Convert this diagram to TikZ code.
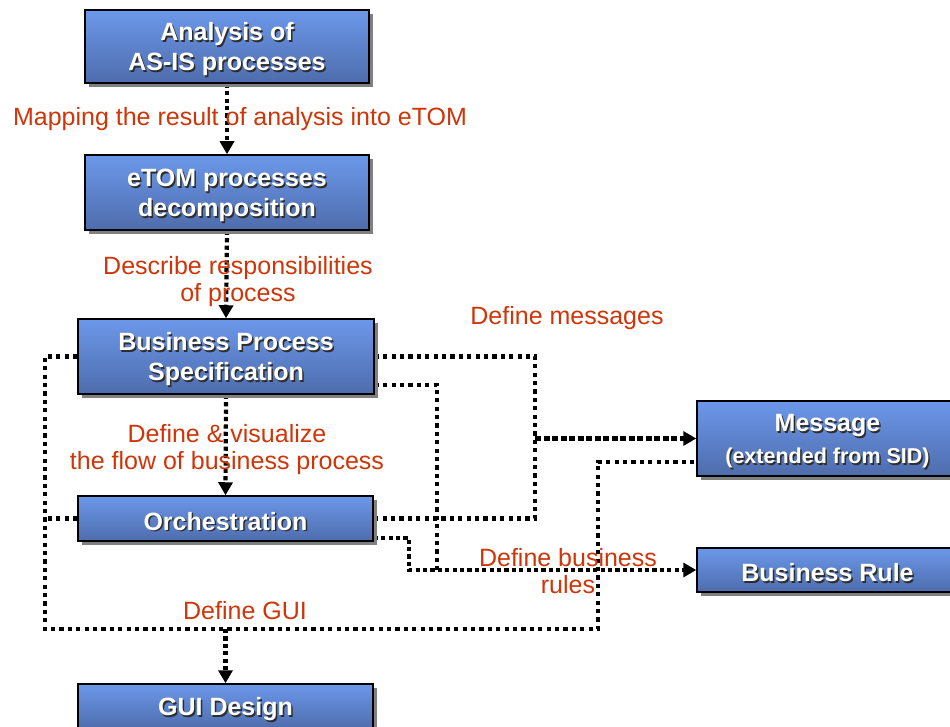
\documentclass[tikz,border=0pt]{standalone}
\usepackage{fontspec}
\setmainfont{Liberation Sans}
\usetikzlibrary{arrows.meta}

\definecolor{boxtop}{RGB}{108,152,234}
\definecolor{boxbot}{RGB}{78,108,172}
\definecolor{labelred}{RGB}{206,54,10}
\definecolor{boxshadow}{RGB}{128,128,128}
\definecolor{textshadow}{RGB}{45,45,45}

\pgfdeclarelayer{background}
\pgfsetlayers{background,main}

\tikzset{
  procbox/.style={draw=black, line width=1.5pt, top color=boxtop, bottom color=boxbot,
    rectangle, inner sep=0pt},
  boxtext/.style={font=\fontsize{25}{30}\selectfont\bfseries, text=white,
    align=center, inner sep=0pt},
  flow/.style={line width=4.2pt, dash pattern=on 4.2pt off 4.2pt, black},
  flowarrow/.style={flow, dash pattern=on 4.2pt off 3.2pt,
    -{Triangle[length=13pt,width=14pt]}},
  densearrow/.style={flowarrow, dash pattern=on 6pt off 2.5pt},
  steplabel/.style={font=\fontsize{25}{27}\selectfont, text=labelred,
    align=center, inner sep=0pt},
}

% process box: name, left, top, right, bottom, text
\newcommand\procnode[6]{%
  \fill[boxshadow] (#2+4,#3+4) rectangle (#4+4,#5+4);
  \node[procbox, minimum width={(#4-#2)*1pt}, minimum height={(#5-#3)*1pt}]
    (#1) at ({(#2+#4)/2},{(#3+#5)/2}) {};
  \node[boxtext, text=textshadow] at ([shift={(1.5pt,-4.5pt)}]#1.center) {#6};
  \node[boxtext] at ([yshift=-3pt]#1.center) {#6};
}

\begin{document}
\begin{tikzpicture}[x=1pt, y=-1pt]
  \clip (0,0) rectangle (950,727);

  % process boxes
  \procnode{ana}{85}{10}{369}{83}{Analysis of\\AS-IS processes}
  \procnode{etom}{85}{155}{369}{230}{eTOM processes\\decomposition}
  \procnode{bps}{78}{319}{374}{394}{Business Process\\Specification}
  \procnode{orch}{78}{496}{373}{541}{Orchestration}
  \procnode{gui}{78}{684}{373}{729}{GUI Design}
  \procnode{msg}{697}{401}{958}{476}{Message\\[2pt]{\fontsize{21.5}{26}\selectfont (extended from SID)}}
  \procnode{rule}{697}{548}{958}{592}{Business Rule}

  % routing points of the connectors
  \coordinate (guiL) at (45,629);
  \coordinate (guiR) at (598,629);
  \coordinate (msgX) at (535,438);
  \coordinate (ruleA) at (437,569);
  \coordinate (ruleB) at (409,569);

  \begin{pgfonlayer}{background}
    \fill[white] (0,0) rectangle (950,727);

    % main sequence
    \draw[flowarrow] (ana.south) -- (etom.north);
    \draw[flowarrow] (etom.south) -- (bps.north);
    \draw[flowarrow] (bps.south) -- (orch.north);

    % GUI definition
    \draw[flow] (bps.west) -| (guiL) -- (guiR) |- ([yshift=15pt]msg.south west);
    \draw[flow] (orch.west) -- (orch.west -| guiL);
    \draw[flowarrow] (gui.north |- guiL) -- (gui.north);

    % message definition
    \draw[flow] (bps.east) -| (msgX |- orch.east) -- (orch.east);
    \draw[densearrow] (msgX |- msg.west) -- (msg.west);

    % business rule definition
    \draw[flow] ([yshift=10pt]bps.south east) -| (ruleA |- rule.west);
    \draw[flowarrow] ([yshift=4pt]orch.south east) -| (ruleB |- rule.west) -- (rule.west);
  \end{pgfonlayer}

  % connector labels
  \node[steplabel] (lmap) at (240,119) {Mapping the result of analysis into eTOM};
  \node[steplabel] (lresp) at (238,282) {Describe responsibilities\\of process};
  \node[steplabel] (lmsg) at (567,318) {Define messages};
  \node[steplabel] (lflow) at (227,450) {Define \& visualize\\the flow of business process};
  \node[steplabel] (lrule) at (568,571.5) {Define business\\rules};
  \node[steplabel] (lgui) at (245,610.5) {Define GUI};
\end{tikzpicture}
\end{document}
